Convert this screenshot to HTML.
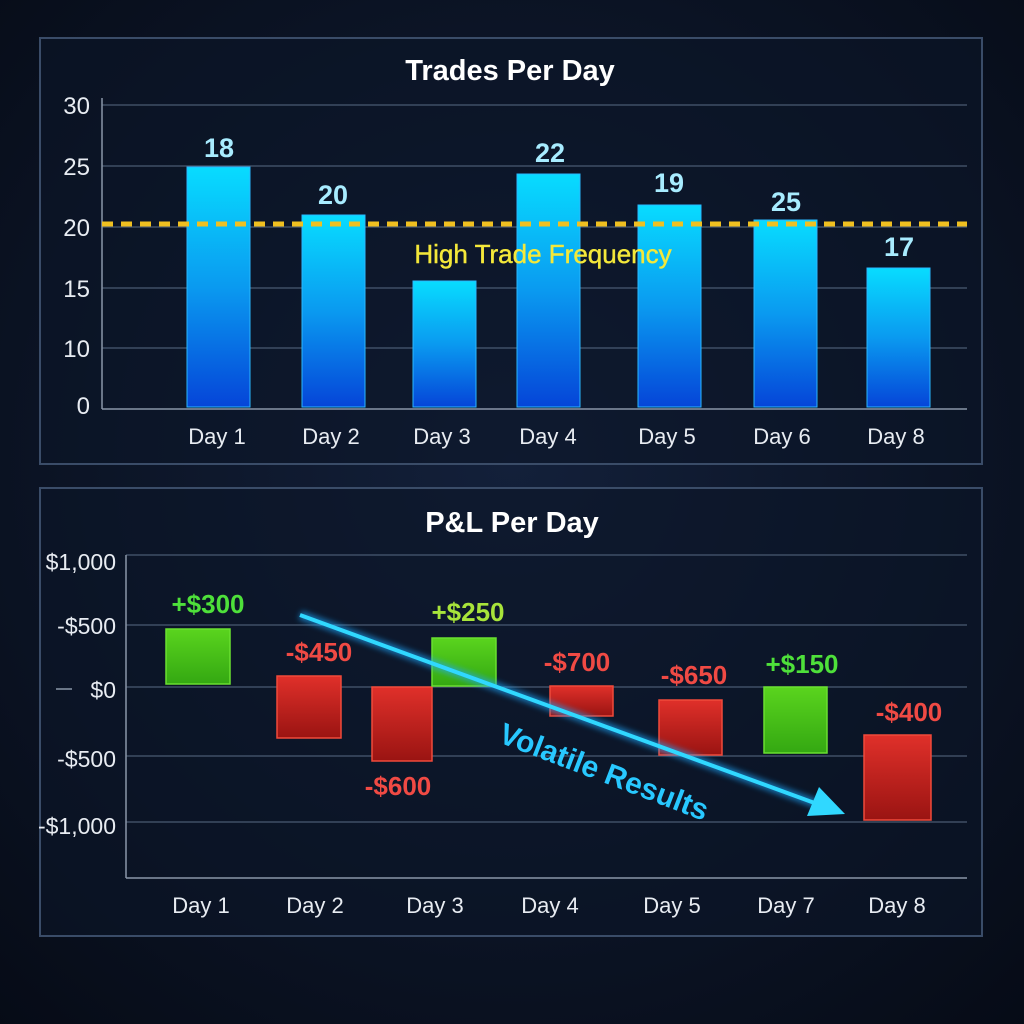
<!DOCTYPE html>
<html><head><meta charset="utf-8"><style>
html,body{margin:0;padding:0;background:#0a1224;}
svg{display:block;font-family:"Liberation Sans",sans-serif;}
</style></head><body>
<svg width="1024" height="1024" viewBox="0 0 1024 1024">
<defs>
<radialGradient id="bg" cx="50%" cy="45%" r="75%"><stop offset="0" stop-color="#13203a"/><stop offset="1" stop-color="#060b16"/></radialGradient>
<linearGradient id="blue" x1="0" y1="0" x2="0" y2="1"><stop offset="0" stop-color="#08dcff"/><stop offset="0.5" stop-color="#0a9af0"/><stop offset="1" stop-color="#0545d8"/></linearGradient>
<linearGradient id="grn" x1="0" y1="0" x2="0" y2="1"><stop offset="0" stop-color="#5ad41e"/><stop offset="1" stop-color="#34a812"/></linearGradient>
<linearGradient id="red" x1="0" y1="0" x2="0" y2="1"><stop offset="0" stop-color="#e0302a"/><stop offset="1" stop-color="#9a1412"/></linearGradient>
<filter id="glow"><feGaussianBlur stdDeviation="3"/></filter>
</defs>
<rect width="1024" height="1024" fill="url(#bg)"/>
<!-- top panel -->
<rect x="40" y="38" width="942" height="426" fill="#0b1528" fill-opacity="0.6" stroke="#3a4c68" stroke-width="2"/>
<text x="510" y="80" text-anchor="middle" font-size="29" font-weight="bold" fill="#fff">Trades Per Day</text>
<g stroke="#4a5a72" stroke-width="1.2">
<line x1="102" y1="105" x2="967" y2="105"/><line x1="102" y1="166" x2="967" y2="166"/><line x1="102" y1="227" x2="967" y2="227"/><line x1="102" y1="288" x2="967" y2="288"/><line x1="102" y1="348" x2="967" y2="348"/>
</g>
<line x1="102" y1="98" x2="102" y2="409" stroke="#8a96a8" stroke-width="1.5"/>
<line x1="102" y1="409" x2="967" y2="409" stroke="#8a96a8" stroke-width="1.5"/>
<g font-size="24" fill="#e8ecf2" text-anchor="end">
<text x="90" y="114">30</text><text x="90" y="175">25</text><text x="90" y="236">20</text><text x="90" y="297">15</text><text x="90" y="357">10</text><text x="90" y="414">0</text>
</g>
<g fill="url(#blue)" stroke="#2ab8ff" stroke-width="1">
<rect x="187" y="167" width="63" height="240"/><rect x="302" y="215" width="63" height="192"/><rect x="413" y="281" width="63" height="126"/><rect x="517" y="174" width="63" height="233"/><rect x="638" y="205" width="63" height="202"/><rect x="754" y="220" width="63" height="187"/><rect x="867" y="268" width="63" height="139"/>
</g>
<g font-size="27" font-weight="bold" fill="#a8ecff" text-anchor="middle">
<text x="219" y="157">18</text><text x="333" y="204">20</text><text x="550" y="162">22</text><text x="669" y="192">19</text><text x="786" y="211">25</text><text x="899" y="256">17</text>
</g>
<line x1="102" y1="224" x2="967" y2="224" stroke="#f0c020" stroke-width="5" stroke-dasharray="11,8"/>
<text x="543" y="263" text-anchor="middle" font-size="26" fill="#f4e83a" stroke="#f4e83a" stroke-width="0.4">High Trade Frequency</text>
<g font-size="22" fill="#e8ecf2" text-anchor="middle">
<text x="217" y="444">Day 1</text><text x="331" y="444">Day 2</text><text x="442" y="444">Day 3</text><text x="548" y="444">Day 4</text><text x="667" y="444">Day 5</text><text x="782" y="444">Day 6</text><text x="896" y="444">Day 8</text>
</g>
<!-- bottom panel -->
<rect x="40" y="488" width="942" height="448" fill="#0b1528" fill-opacity="0.6" stroke="#3a4c68" stroke-width="2"/>
<text x="512" y="532" text-anchor="middle" font-size="29" font-weight="bold" fill="#fff">P&amp;L Per Day</text>
<g stroke="#4a5a72" stroke-width="1.2">
<line x1="126" y1="555" x2="967" y2="555"/><line x1="126" y1="625" x2="967" y2="625"/><line x1="126" y1="687" x2="967" y2="687"/><line x1="126" y1="756" x2="967" y2="756"/><line x1="126" y1="822" x2="967" y2="822"/>
</g>
<line x1="126" y1="555" x2="126" y2="878" stroke="#8a96a8" stroke-width="1.5"/>
<line x1="126" y1="878" x2="967" y2="878" stroke="#8a96a8" stroke-width="1.5"/>
<line x1="56" y1="689" x2="72" y2="689" stroke="#8a96a8" stroke-width="1.5"/>
<g font-size="23" fill="#e8ecf2" text-anchor="end">
<text x="116" y="570">$1,000</text><text x="116" y="634">-$500</text><text x="116" y="698">$0</text><text x="116" y="767">-$500</text><text x="116" y="834">-$1,000</text>
</g>
<g stroke-width="1.5">
<rect x="166" y="629" width="64" height="55" fill="url(#grn)" stroke="#6ae030"/>
<rect x="277" y="676" width="64" height="62" fill="url(#red)" stroke="#f04a3a"/>
<rect x="372" y="687" width="60" height="74" fill="url(#red)" stroke="#f04a3a"/>
<rect x="432" y="638" width="64" height="48" fill="url(#grn)" stroke="#6ae030"/>
<rect x="550" y="686" width="63" height="30" fill="url(#red)" stroke="#f04a3a"/>
<rect x="659" y="700" width="63" height="55" fill="url(#red)" stroke="#f04a3a"/>
<rect x="764" y="687" width="63" height="66" fill="url(#grn)" stroke="#6ae030"/>
<rect x="864" y="735" width="67" height="85" fill="url(#red)" stroke="#f04a3a"/>
</g>
<g font-size="26" font-weight="bold" text-anchor="middle">
<text x="208" y="613" fill="#4ee03a">+$300</text>
<text x="319" y="661" fill="#f04a44">-$450</text>
<text x="398" y="795" fill="#f04a44">-$600</text>
<text x="468" y="621" fill="#a8e43a">+$250</text>
<text x="577" y="671" fill="#f04a44">-$700</text>
<text x="694" y="684" fill="#f04a44">-$650</text>
<text x="802" y="673" fill="#4ee03a">+$150</text>
<text x="909" y="721" fill="#f04a44">-$400</text>
</g>
<g>
<line x1="300" y1="615" x2="820" y2="805" stroke="#1aa8ff" stroke-width="9" opacity="0.6" filter="url(#glow)"/>
<line x1="300" y1="615" x2="820" y2="805" stroke="#30d8ff" stroke-width="4"/>
<polygon points="845,814 807,816 819,787" fill="#30d8ff"/>
</g>
<text x="604" y="782" text-anchor="middle" font-size="30" font-weight="bold" fill="#28c8ff" transform="rotate(21 604 772)">Volatile Results</text>
<g font-size="22" fill="#e8ecf2" text-anchor="middle">
<text x="201" y="913">Day 1</text><text x="315" y="913">Day 2</text><text x="435" y="913">Day 3</text><text x="550" y="913">Day 4</text><text x="672" y="913">Day 5</text><text x="786" y="913">Day 7</text><text x="897" y="913">Day 8</text>
</g>
</svg>
</body></html>
